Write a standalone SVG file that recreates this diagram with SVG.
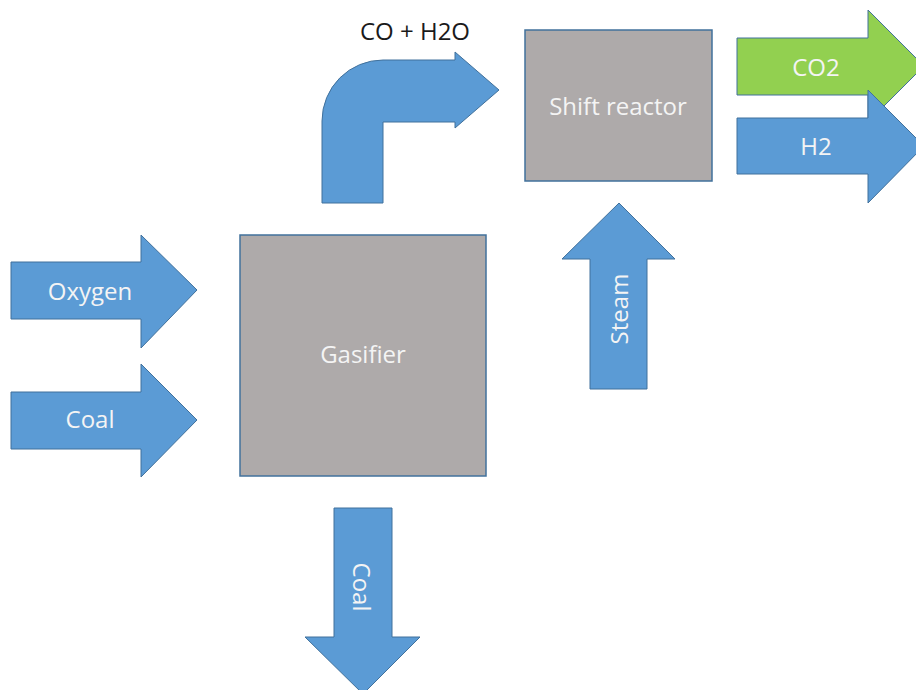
<svg xmlns="http://www.w3.org/2000/svg" width="916" height="690" viewBox="0 0 916 690">
<style>
.arrow{fill:#5B9BD5;stroke:#41719C;stroke-width:1}
.green{fill:#92D050;stroke:#41719C;stroke-width:1}
.box{fill:#AEAAAA;stroke:#41719C;stroke-width:1.5}
.lbl{font-family:"Open Sans","Noto Sans",sans-serif;font-size:24px;fill:#F4F4F4;text-anchor:middle;dominant-baseline:central}
.dark{font-family:"Open Sans","Noto Sans",sans-serif;font-size:24px;fill:#1a1a1a;text-anchor:middle}
</style>
<rect width="916" height="690" fill="#ffffff"/>
<g id="connectors">
<g id="arrow-oxygen">
<path class="arrow" d="M11,262 L141,262 L141,235 L197,290 L141,348 L141,319 L11,319 Z"/>
<text class="lbl" x="90" y="290">Oxygen</text>
</g>
<g id="arrow-coal-in">
<path class="arrow" d="M11,392 L141,392 L141,364 L197,420 L141,477 L141,449 L11,449 Z"/>
<text class="lbl" x="90" y="418">Coal</text>
</g>
<g id="arrow-coh2o">
<path class="arrow" d="M322,203 L322,121 A61,61 0 0 1 383,60 L455,60 L455,52 L499,90 L455,128 L455,122 L383,122 L383,203 Z"/>
<text class="dark" x="415" y="40">CO + H2O</text>
</g>
<g id="arrow-steam">
<path class="arrow" d="M590,389 L590,259 L562,259 L619,203 L675,259 L647,259 L647,389 Z"/>
<text class="lbl" transform="translate(618,309) rotate(-90)" x="0" y="0">Steam</text>
</g>
<g id="arrow-coal-out">
<path class="arrow" d="M334,508 L392,508 L392,637 L420,637 L363,694 L305,637 L334,637 Z"/>
<text class="lbl" transform="translate(362,587) rotate(90)" x="0" y="0">Coal</text>
</g>
<g id="arrow-co2">
<path class="green" d="M737,38 L868,38 L868,10 L924,66 L868,122 L868,95 L737,95 Z"/>
<text class="lbl" x="816" y="66">CO2</text>
</g>
<g id="arrow-h2">
<path class="arrow" d="M737,118 L868,118 L868,90 L924,146 L868,203 L868,174 L737,174 Z"/>
<text class="lbl" x="816" y="145">H2</text>
</g>
</g>
<g id="node-gasifier">
<rect class="box" x="240" y="235" width="246" height="241"/>
<text class="lbl" x="363" y="353">Gasifier</text>
</g>
<g id="node-shift-reactor">
<rect class="box" x="525" y="30" width="187" height="151"/>
<text class="lbl" x="618" y="105">Shift reactor</text>
</g>
</svg>
